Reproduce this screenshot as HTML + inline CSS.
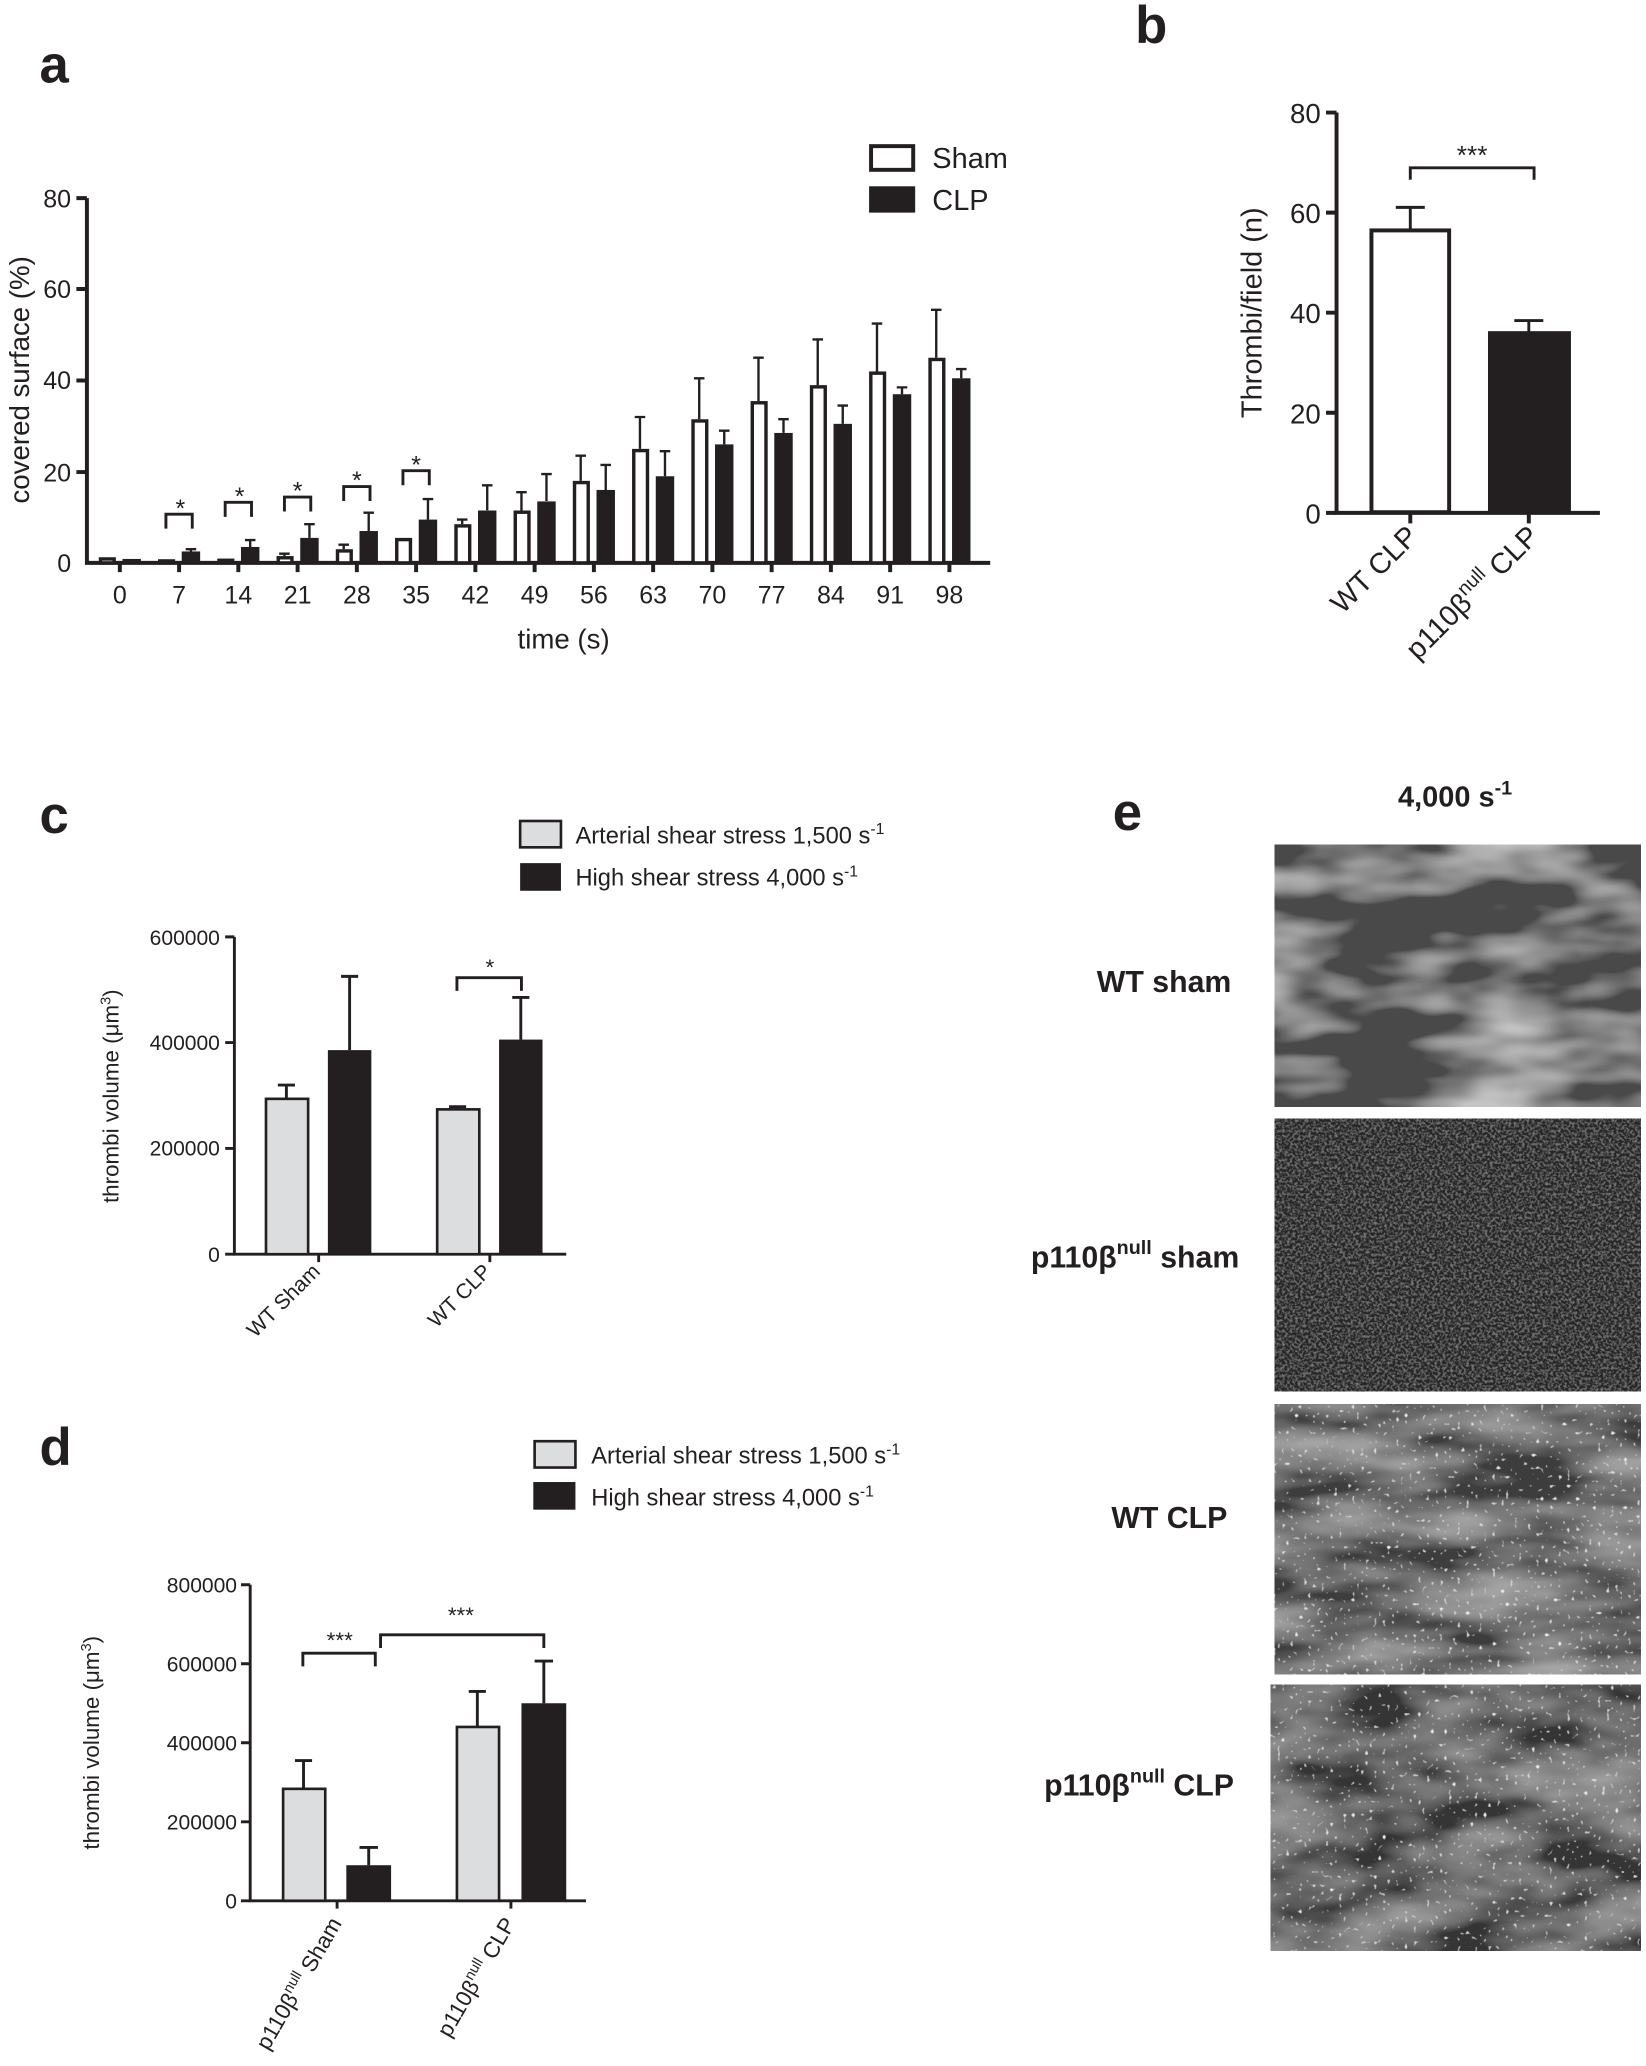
<!DOCTYPE html>
<html><head><meta charset="utf-8"><style>
html,body{margin:0;padding:0;background:#fff;}
svg{display:block;}
text{font-family:"Liberation Sans",Arial,sans-serif;fill:#231f20;}
</style></head><body>
<svg width="1646" height="2066" viewBox="0 0 1250 1568" xmlns="http://www.w3.org/2000/svg">
<defs>
<filter id="f1" x="0" y="0" width="100%" height="100%">
<feTurbulence type="fractalNoise" baseFrequency="0.01 0.028" numOctaves="3" seed="4" result="t"/>
<feColorMatrix in="t" type="matrix" values="0 0 0 0 0  0 0 0 0 0  0 0 0 0 0  2.6 0 0 0 -1.1" result="a"/>
<feFlood flood-color="#c4c4c4" result="w"/>
<feComposite in="w" in2="a" operator="in" result="b"/>
<feFlood flood-color="#4a4a4a" result="bg"/>
<feMerge><feMergeNode in="bg"/><feMergeNode in="b"/></feMerge>
</filter>
<filter id="f2" x="0" y="0" width="100%" height="100%">
<feTurbulence type="fractalNoise" baseFrequency="0.5" numOctaves="2" seed="7" result="t"/>
<feColorMatrix in="t" type="matrix" values="0 0 0 0 0  0 0 0 0 0  0 0 0 0 0  2 0 0 0 -0.85" result="a"/>
<feFlood flood-color="#8a8a8a" result="w"/>
<feComposite in="w" in2="a" operator="in" result="b"/>
<feFlood flood-color="#262626" result="bg"/>
<feMerge><feMergeNode in="bg"/><feMergeNode in="b"/></feMerge>
</filter>
<filter id="f3" x="0" y="0" width="100%" height="100%">
<feTurbulence type="fractalNoise" baseFrequency="0.01 0.035" numOctaves="3" seed="11" result="t"/>
<feColorMatrix in="t" type="matrix" values="0 0 0 0 0  0 0 0 0 0  0 0 0 0 0  1.8 0 0 0 -0.55" result="a"/>
<feFlood flood-color="#aaa" result="w"/>
<feComposite in="w" in2="a" operator="in" result="b"/>
<feTurbulence type="fractalNoise" baseFrequency="0.3" numOctaves="1" seed="3" result="t2"/>
<feColorMatrix in="t2" type="matrix" values="0 0 0 0 0  0 0 0 0 0  0 0 0 0 0  6 0 0 0 -3.9" result="a2"/>
<feFlood flood-color="#eee" result="w2"/>
<feComposite in="w2" in2="a2" operator="in" result="s"/>
<feFlood flood-color="#3c3c3c" result="bg"/>
<feMerge><feMergeNode in="bg"/><feMergeNode in="b"/><feMergeNode in="s"/></feMerge>
</filter>
<filter id="f4" x="0" y="0" width="100%" height="100%">
<feTurbulence type="fractalNoise" baseFrequency="0.012 0.03" numOctaves="3" seed="21" result="t"/>
<feColorMatrix in="t" type="matrix" values="0 0 0 0 0  0 0 0 0 0  0 0 0 0 0  1.8 0 0 0 -0.55" result="a"/>
<feFlood flood-color="#a5a5a5" result="w"/>
<feComposite in="w" in2="a" operator="in" result="b"/>
<feTurbulence type="fractalNoise" baseFrequency="0.3" numOctaves="1" seed="9" result="t2"/>
<feColorMatrix in="t2" type="matrix" values="0 0 0 0 0  0 0 0 0 0  0 0 0 0 0  6 0 0 0 -3.9" result="a2"/>
<feFlood flood-color="#eee" result="w2"/>
<feComposite in="w2" in2="a2" operator="in" result="s"/>
<feFlood flood-color="#353535" result="bg"/>
<feMerge><feMergeNode in="bg"/><feMergeNode in="b"/><feMergeNode in="s"/></feMerge>
</filter>
</defs>

<!-- Panel a -->
<text x="30" y="62" font-size="40" font-weight="bold">a</text>
<g stroke="#231f20" stroke-width="3" fill="none">
<path d="M66,150 V427 H752"/>
<path d="M58,150H66 M58,219H66 M58,288.5H66 M58,358H66"/>
<path d="M91,427v7 M136,427v7 M181,427v7 M226,427v7 M271,427v7 M316,427v7 M361,427v7 M406,427v7 M451,427v7 M496,427v7 M541,427v7 M586,427v7 M631,427v7 M676,427v7 M721,427v7"/>
</g>
<g font-size="19" text-anchor="end">
<text x="54" y="157">80</text><text x="54" y="226">60</text><text x="54" y="295">40</text><text x="54" y="365">20</text><text x="54" y="434">0</text>
</g>
<g font-size="19" text-anchor="middle">
<text x="91" y="458">0</text><text x="136" y="458">7</text><text x="181" y="458">14</text><text x="226" y="458">21</text><text x="271" y="458">28</text><text x="316" y="458">35</text><text x="361" y="458">42</text><text x="406" y="458">49</text><text x="451" y="458">56</text><text x="496" y="458">63</text><text x="541" y="458">70</text><text x="586" y="458">77</text><text x="631" y="458">84</text><text x="676" y="458">91</text><text x="721" y="458">98</text>
</g>
<text x="428" y="492" font-size="21" text-anchor="middle">time (s)</text>
<text transform="translate(22,288) rotate(-90)" font-size="21" text-anchor="middle">covered surface (%)</text>
<g stroke="#231f20" stroke-width="1.8">
<path d="M216,420V421.8M212,420h8"/>
<path d="M261,413.2V416.6M257,413.2h8"/>
<path d="M351,394.1V397.6M347,394.1h8"/>
<path d="M396,373.3V387.2M392,373.3h8"/>
<path d="M441,345.6V364.7M437,345.6h8"/>
<path d="M486,316.2V340.4M482,316.2h8"/>
<path d="M531,286.8V317.9M527,286.8h8"/>
<path d="M576,271.2V304.1M572,271.2h8"/>
<path d="M621,257.3V292M617,257.3h8"/>
<path d="M666,245.2V281.6M662,245.2h8"/>
<path d="M711,234.8V271.2M707,234.8h8"/>
<path d="M145,416.6V419M141,416.6h8"/>
<path d="M190,409.7V415M186,409.7h8"/>
<path d="M235,397.6V408M231,397.6h8"/>
<path d="M280,388.9V403M276,388.9h8"/>
<path d="M325,378.5V394M321,378.5h8"/>
<path d="M370,368.1V387M366,368.1h8"/>
<path d="M415,359.5V380M411,359.5h8"/>
<path d="M460,352.6V371.6M456,352.6h8"/>
<path d="M505,342.2V361.2M501,342.2h8"/>
<path d="M550,326.6V337M546,326.6h8"/>
<path d="M595,317.9V328.3M591,317.9h8"/>
<path d="M640,307.5V321.4M636,307.5h8"/>
<path d="M685,293.7V298.9M681,293.7h8"/>
<path d="M730,279.8V286.8M726,279.8h8"/>
</g>
<g fill="#fff" stroke="#231f20" stroke-width="2.6">
<rect x="76.3" y="424" width="10.4" height="3"/>
<rect x="121.3" y="425.5" width="10.4" height="1.5"/>
<rect x="166.3" y="425" width="10.4" height="2"/>
<rect x="211.3" y="423.1" width="10.4" height="3.9"/>
<rect x="256.3" y="417.9" width="10.4" height="9.1"/>
<rect x="301.3" y="409.3" width="10.4" height="17.7"/>
<rect x="346.3" y="398.9" width="10.4" height="28.1"/>
<rect x="391.3" y="388.5" width="10.4" height="38.5"/>
<rect x="436.3" y="366" width="10.4" height="61"/>
<rect x="481.3" y="341.7" width="10.4" height="85.3"/>
<rect x="526.3" y="319.2" width="10.4" height="107.8"/>
<rect x="571.3" y="305.4" width="10.4" height="121.6"/>
<rect x="616.3" y="293.3" width="10.4" height="133.7"/>
<rect x="661.3" y="282.9" width="10.4" height="144.1"/>
<rect x="706.3" y="272.5" width="10.4" height="154.5"/>
</g>
<g fill="#231f20">
<rect x="93" y="424" width="14" height="3"/>
<rect x="138" y="418.3" width="14" height="8.7"/>
<rect x="183" y="414.9" width="14" height="12.1"/>
<rect x="228" y="408" width="14" height="19"/>
<rect x="273" y="402.8" width="14" height="24.2"/>
<rect x="318" y="394.1" width="14" height="32.9"/>
<rect x="363" y="387.2" width="14" height="39.8"/>
<rect x="408" y="380.3" width="14" height="46.7"/>
<rect x="453" y="371.6" width="14" height="55.4"/>
<rect x="498" y="361.2" width="14" height="65.8"/>
<rect x="543" y="337" width="14" height="90"/>
<rect x="588" y="328.3" width="14" height="98.7"/>
<rect x="633" y="321.4" width="14" height="105.6"/>
<rect x="678" y="298.9" width="14" height="128.1"/>
<rect x="723" y="286.8" width="14" height="140.2"/>
</g>
<g stroke="#231f20" stroke-width="2.2" fill="none">
<path d="M126,401V390H146V401"/>
<path d="M171,392V381H191V392"/>
<path d="M216,388V377H236V388"/>
<path d="M261,380V369H281V380"/>
<path d="M306,368V357H326V368"/>
</g>
<g font-size="19" text-anchor="middle">
<text x="137" y="392">*</text><text x="182" y="383">*</text><text x="226" y="379">*</text><text x="271" y="371">*</text><text x="316" y="359">*</text>
</g>
<rect x="661.5" y="110.5" width="32" height="18" fill="#fff" stroke="#231f20" stroke-width="3"/>
<rect x="660" y="141" width="35" height="20" fill="#231f20"/>
<text x="708" y="127" font-size="22">Sham</text>
<text x="708" y="159" font-size="22">CLP</text>

<!-- Panel b -->
<text x="862" y="32" font-size="40" font-weight="bold">b</text>
<g stroke="#231f20" stroke-width="3" fill="none">
<path d="M1015,85V389H1215"/>
<path d="M1007,85H1015M1007,161H1015M1007,237H1015M1007,313H1015M1007,389H1015"/>
<path d="M1071,389v8M1161,389v8"/>
</g>
<g font-size="21" text-anchor="end">
<text x="1003" y="93">80</text><text x="1003" y="169">60</text><text x="1003" y="245">40</text><text x="1003" y="321">20</text><text x="1003" y="397">0</text>
</g>
<text transform="translate(958,237) rotate(-90)" font-size="22" text-anchor="middle">Thrombi/field (n)</text>
<g stroke="#231f20" stroke-width="2.2"><path d="M1071,157V174M1060,157h22"/><path d="M1161,243V252M1150,243h22"/></g>
<rect x="1041.5" y="174.5" width="59" height="214" fill="#fff" stroke="#231f20" stroke-width="3"/>
<rect x="1130" y="251" width="63" height="138" fill="#231f20"/>
<path d="M1071,136V127H1165V136" stroke="#231f20" stroke-width="2.2" fill="none"/>
<text x="1118" y="124" font-size="20" text-anchor="middle">***</text>
<text transform="translate(1078,408) rotate(-45)" font-size="22" text-anchor="end">WT CLP</text>
<text transform="translate(1170,408) rotate(-45)" font-size="22" text-anchor="end">p110β<tspan font-size="15" dy="-9">null</tspan><tspan dy="9"> CLP</tspan></text>

<!-- Panel c -->
<text x="30" y="632" font-size="40" font-weight="bold">c</text>
<rect x="395" y="623" width="31" height="20" fill="#dcdddf" stroke="#231f20" stroke-width="2"/>
<rect x="395" y="655" width="31" height="21" fill="#231f20"/>
<text x="437" y="640" font-size="18">Arterial shear stress 1,500 s<tspan font-size="12" dy="-7">-1</tspan></text>
<text x="437" y="672" font-size="18">High shear stress 4,000 s<tspan font-size="12" dy="-7">-1</tspan></text>
<g stroke="#231f20" stroke-width="2.2" fill="none">
<path d="M178,711V952H430"/>
<path d="M171,711H178M171,791.3H178M171,871.7H178M171,952H178"/>
<path d="M242,952v6M372,952v6"/>
<path d="M217.5,823.5V833.6M211,823.5h13"/>
<path d="M265.5,741V797M259,741h13"/>
<path d="M347.5,840V842M341,840h13"/>
<path d="M395.5,757V789M389,757h13"/>
<path d="M347,752V742H396V752"/>
</g>
<g font-size="16" text-anchor="end">
<text x="167" y="717">600000</text><text x="167" y="797">400000</text><text x="167" y="877">200000</text><text x="167" y="958">0</text>
</g>
<text transform="translate(90,832) rotate(-90)" font-size="17" text-anchor="middle">thrombi volume (μm<tspan font-size="11" dy="-6">3</tspan><tspan dy="6">)</tspan></text>
<rect x="202" y="834" width="32" height="118" fill="#dcdddf" stroke="#231f20" stroke-width="2"/>
<rect x="249" y="797" width="33" height="155" fill="#231f20"/>
<rect x="332" y="842" width="32" height="110" fill="#dcdddf" stroke="#231f20" stroke-width="2"/>
<rect x="379" y="789" width="33" height="163" fill="#231f20"/>
<text x="372" y="740" font-size="17" text-anchor="middle">*</text>
<text transform="translate(244,966) rotate(-45)" font-size="16" text-anchor="end">WT Sham</text>
<text transform="translate(374,966) rotate(-45)" font-size="16" text-anchor="end">WT CLP</text>

<!-- Panel d -->
<text x="30" y="1112" font-size="40" font-weight="bold">d</text>
<rect x="406" y="1094" width="31" height="20" fill="#dcdddf" stroke="#231f20" stroke-width="2"/>
<rect x="405" y="1125" width="32" height="21" fill="#231f20"/>
<text x="449" y="1111" font-size="18">Arterial shear stress 1,500 s<tspan font-size="12" dy="-7">-1</tspan></text>
<text x="449" y="1143" font-size="18">High shear stress 4,000 s<tspan font-size="12" dy="-7">-1</tspan></text>
<g stroke="#231f20" stroke-width="2.2" fill="none">
<path d="M190,1203V1443H445"/>
<path d="M183,1203H190M183,1263H190M183,1323H190M183,1383H190M183,1443H190"/>
<path d="M256,1443v6M388,1443v6"/>
<path d="M230.5,1336.5V1357.5M224,1336.5h13"/>
<path d="M280,1402.5V1416M273,1402.5h14"/>
<path d="M362.5,1284V1311M356,1284h13"/>
<path d="M413,1261V1293M406,1261h14"/>
<path d="M230,1265V1255H285V1265"/>
<path d="M289,1251V1241H413V1251"/>
</g>
<g font-size="16" text-anchor="end">
<text x="180" y="1209">800000</text><text x="180" y="1269">600000</text><text x="180" y="1329">400000</text><text x="180" y="1389">200000</text><text x="180" y="1449">0</text>
</g>
<text transform="translate(75,1323) rotate(-90)" font-size="17" text-anchor="middle">thrombi volume (μm<tspan font-size="11" dy="-6">3</tspan><tspan dy="6">)</tspan></text>
<rect x="215" y="1358" width="32" height="85" fill="#dcdddf" stroke="#231f20" stroke-width="2"/>
<rect x="263" y="1416" width="34" height="27" fill="#231f20"/>
<rect x="347" y="1311" width="32" height="132" fill="#dcdddf" stroke="#231f20" stroke-width="2"/>
<rect x="396" y="1293" width="34" height="150" fill="#231f20"/>
<text x="258" y="1251" font-size="17" text-anchor="middle">***</text>
<text x="350" y="1232" font-size="17" text-anchor="middle">***</text>
<text transform="translate(260,1460) rotate(-60)" font-size="17" text-anchor="end">p110β<tspan font-size="11" dy="-7">null</tspan><tspan dy="7"> Sham</tspan></text>
<text transform="translate(392,1460) rotate(-60)" font-size="17" text-anchor="end">p110β<tspan font-size="11" dy="-7">null</tspan><tspan dy="7"> CLP</tspan></text>

<!-- Panel e -->
<text x="845" y="630" font-size="40" font-weight="bold">e</text>
<text x="1105" y="612" font-size="22" font-weight="bold" text-anchor="middle">4,000 s<tspan font-size="15" dy="-9">-1</tspan></text>
<rect x="968" y="641" width="278" height="199" filter="url(#f1)"/>
<rect x="968" y="849" width="278" height="207" filter="url(#f2)"/>
<rect x="968" y="1066" width="278" height="205" filter="url(#f3)"/>
<rect x="965" y="1279" width="281" height="202" filter="url(#f4)"/>
<g font-size="23" font-weight="bold" text-anchor="middle">
<text x="884" y="753">WT sham</text>
<text x="862" y="962">p110β<tspan font-size="15" dy="-10">null</tspan><tspan dy="10"> sham</tspan></text>
<text x="888" y="1160">WT CLP</text>
<text x="865" y="1363">p110β<tspan font-size="15" dy="-10">null</tspan><tspan dy="10"> CLP</tspan></text>
</g>
</svg>
</body></html>
